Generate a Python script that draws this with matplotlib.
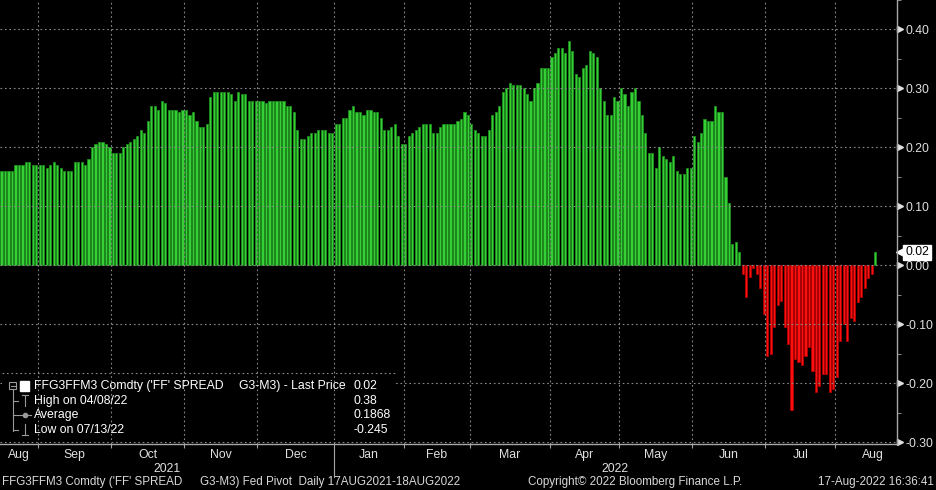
import matplotlib.pyplot as plt
import matplotlib.patches as mpatches
import matplotlib.transforms as mtrans
import numpy as np

W, H = 936, 490
plt.rcParams['font.family'] = ['Liberation Sans Narrow', 'Liberation Sans', 'DejaVu Sans']

# daily spread values, one list per month (trading days)
months = ['Aug', 'Sep', 'Oct', 'Nov', 'Dec', 'Jan', 'Feb', 'Mar', 'Apr', 'May', 'Jun', 'Jul', 'Aug']
years = ['2021', '2022']
aug21 = [0.16, 0.16, 0.16, 0.16, 0.17, 0.17, 0.17, 0.175, 0.175, 0.17, 0.17]
sep21 = [0.17, 0.17, 0.165, 0.17, 0.175, 0.17, 0.165, 0.16, 0.16, 0.16, 0.175, 0.175, 0.175, 0.17,
         0.18, 0.20, 0.205, 0.21, 0.21, 0.205, 0.20]
oct21 = [0.19, 0.19, 0.19, 0.20, 0.205, 0.21, 0.215, 0.22, 0.23, 0.225, 0.245, 0.27, 0.27, 0.264,
         0.279, 0.275, 0.264, 0.264, 0.264, 0.26, 0.264]
nov21 = [0.264, 0.255, 0.26, 0.245, 0.234, 0.234, 0.24, 0.285, 0.294, 0.294, 0.294, 0.294, 0.294,
         0.29, 0.279, 0.294, 0.29, 0.29, 0.279, 0.279, 0.279]
dec21 = [0.279, 0.279, 0.275, 0.279, 0.279, 0.279, 0.279, 0.279, 0.27, 0.27, 0.26, 0.23, 0.215,
         0.215, 0.22, 0.225, 0.225, 0.23, 0.23, 0.23, 0.225, 0.225]
jan22 = [0.24, 0.24, 0.25, 0.25, 0.264, 0.27, 0.26, 0.26, 0.255, 0.264, 0.264, 0.26, 0.26, 0.25,
         0.23, 0.23, 0.235, 0.24, 0.22, 0.205]
feb22 = [0.205, 0.22, 0.225, 0.23, 0.235, 0.24, 0.24, 0.24, 0.225, 0.225, 0.235, 0.24, 0.24, 0.24,
         0.24, 0.245, 0.249, 0.26, 0.255]
mar22 = [0.24, 0.23, 0.225, 0.22, 0.22, 0.23, 0.255, 0.26, 0.27, 0.294, 0.30, 0.309, 0.305, 0.305,
         0.305, 0.30, 0.29, 0.279, 0.30, 0.309, 0.334, 0.334, 0.334]
apr22 = [0.354, 0.36, 0.369, 0.369, 0.36, 0.38, 0.364, 0.324, 0.319, 0.334, 0.339, 0.364, 0.36,
         0.354, 0.30, 0.279, 0.255, 0.255, 0.285, 0.279]
may22 = [0.30, 0.29, 0.27, 0.294, 0.30, 0.279, 0.255, 0.225, 0.19, 0.19, 0.165, 0.20, 0.185, 0.18,
         0.175, 0.185, 0.16, 0.155, 0.155, 0.165, 0.165]
jun22 = [0.22, 0.21, 0.225, 0.249, 0.245, 0.245, 0.27, 0.26, 0.26, 0.15, 0.106, 0.037, 0.04, 0.022,
         -0.014, -0.053, -0.019, -0.004, -0.014, -0.038, -0.083]
jul22 = [-0.154, -0.15, -0.104, -0.068, -0.06, -0.104, -0.134, -0.245, -0.159, -0.164, -0.169,
         -0.154, -0.139, -0.179, -0.214, -0.204, -0.184, -0.184, -0.214, -0.209]
aug22 = [-0.189, -0.128, -0.099, -0.128, -0.09, -0.094, -0.063, -0.053, -0.038, -0.022, -0.014, 0.022]

legend_names = ["High on 04/08/22", "Average", "Low on 07/13/22"]
legend_values = ["0.38", "0.1868", "-0.245"]
last_price = "0.02"

monthly = [aug21, sep21, oct21, nov21, dec21, jan22, feb22, mar22, apr22, may22, jun22, jul22, aug22]
spread = np.concatenate(monthly)
n = len(spread)
x = np.arange(n)
lengths = np.array([len(m) for m in monthly])
starts = np.concatenate([[0], np.cumsum(lengths)[:-1]]) - 0.5
ends = starts + lengths

fig = plt.figure(figsize=(W / 100, H / 100), dpi=100, facecolor='black')
ax = fig.add_axes([0, 1 - 444 / H, 897 / W, 444 / H])
ax.set_facecolor('black')

pos = spread >= 0
ax.bar(x[pos], spread[pos], width=0.62, color='#35d035', edgecolor='#1e8c1e', linewidth=0.6, zorder=1)
ax.bar(x[~pos], spread[~pos], width=0.62, color='#ff1010', edgecolor='#b00000', linewidth=0.6, zorder=1)

ax.set_xlim(-0.45, 257.3)
ax.set_ylim(-0.303, 0.442)

yt = np.round(np.arange(-0.3, 0.41, 0.1), 2)
grid_kw = dict(color='#8a8a8a', lw=0.8, ls=(0, (1.5, 2.5)))
for v in yt:
    ax.axhline(v, zorder=1.5, **grid_kw)
for b in starts[1:]:
    ax.axvline(b, zorder=3, **grid_kw)

ax.yaxis.tick_right()
ax.set_yticks(yt)
ax.set_yticklabels(['%.2f' % v for v in yt])
ax.set_yticks(yt + 0.05, minor=True)
ax.tick_params(axis='y', which='major', length=0, pad=6, labelsize=8.8, labelcolor='#e0e0e0')
ax.tick_params(axis='y', which='minor', length=3, color='#a0a0a0', direction='out')
ax.plot(np.ones(len(yt)) * 1.003, yt, ls='none', marker='>', ms=4.5, color='#e0e0e0',
        transform=ax.get_yaxis_transform(), clip_on=False)

ax.set_xticks(starts[1:])
ax.set_xticklabels([])
ax.tick_params(axis='x', length=3, color='#a0a0a0', direction='out')

for s in ['top', 'left']:
    ax.spines[s].set_visible(False)
for s in ['right', 'bottom']:
    ax.spines[s].set_color('#a8a8a8')
    ax.spines[s].set_linewidth(1)

# last price tag
ytrans = ax.get_yaxis_transform()
ax.plot([1.004], [spread[-1]], marker='<', ms=7, color='white', transform=ytrans, clip_on=False)
ax.text(1.009, spread[-1], last_price, transform=ytrans, ha='left', va='center', fontsize=8.8,
        color='black', bbox=dict(boxstyle='square,pad=0.15', fc='white', ec='white'), clip_on=False)

# month and year labels
bt = mtrans.blended_transform_factory(ax.transData, fig.transFigure)
lab_kw = dict(transform=bt, ha='center', va='center', fontsize=8.8, color='#e0e0e0', clip_on=False)
for i, m in enumerate(months):
    c = (starts[i] + ends[i]) / 2 if i < len(months) - 1 else starts[i] + 11
    ax.text(c, 1 - 455 / H, m, **lab_kw)
split = starts[5]
ax.text((starts[0] + split) / 2, 1 - 469 / H, years[0], **lab_kw)
ax.text((split + ax.get_xlim()[1]) / 2, 1 - 469 / H, years[1], **lab_kw)
ax.plot([split, split], [1 - 447 / H, 1 - 477 / H], transform=bt, color='#a8a8a8', lw=0.8,
        clip_on=False)


def fx(px):
    return px / W


def fy(py):
    return 1 - py / H


# legend box
ft = fig.transFigure
ax.add_patch(mpatches.Rectangle((fx(2), fy(441)), fx(394), 67 / H, transform=ft, fc='black',
                                ec='none', zorder=2.5))
ax.plot([fx(2), fx(396)], [fy(373), fy(373)], transform=ft, zorder=2.6, clip_on=False, **grid_kw)
rows = [386, 401, 415, 430]
lc = '#9a9a9a'
ax.add_patch(mpatches.Rectangle((fx(9), fy(389)), 7 / W, 7 / H, transform=ft, fc='none', ec=lc,
                                lw=0.8, zorder=4))
ax.plot([fx(10.5), fx(14.5)], [fy(385.5), fy(385.5)], transform=ft, color=lc, lw=0.8, zorder=4)
ax.add_patch(mpatches.Rectangle((fx(20), fy(391)), 9 / W, 10 / H, transform=ft, fc='white',
                                ec='white', zorder=4))
ax.plot([fx(12.5), fx(12.5)], [fy(390), fy(431)], transform=ft, color=lc, lw=0.8, zorder=4)
for r in rows[1:]:
    ax.plot([fx(12.5), fx(18)], [fy(r), fy(r)], transform=ft, color=lc, lw=0.8, zorder=4)
ax.plot([fx(22), fx(28)], [fy(395), fy(395)], transform=ft, color=lc, lw=0.8, zorder=4)
ax.plot([fx(25), fx(25)], [fy(395), fy(406)], transform=ft, color=lc, lw=0.8, zorder=4)
ax.plot([fx(19), fx(31)], [fy(415), fy(415)], transform=ft, color=lc, lw=0.8, zorder=4)
ax.plot([fx(25)], [fy(415)], transform=ft, marker='o', ms=3, color=lc, zorder=4)
ax.plot([fx(25), fx(25)], [fy(424), fy(435)], transform=ft, color=lc, lw=0.8, zorder=4)
ax.plot([fx(22), fx(28)], [fy(435), fy(435)], transform=ft, color=lc, lw=0.8, zorder=4)

txt_kw = dict(transform=ft, va='center', ha='left', fontsize=8.8, color='white', zorder=5)
ax.text(fx(34), fy(rows[0]), "FFG3FFM3 Comdty ('FF' SPREAD", **txt_kw)
ax.text(fx(239), fy(rows[0]), "G3-M3) - Last Price", **txt_kw)
ax.text(fx(354), fy(rows[0]), last_price, **txt_kw)
for r, name, val in zip(rows[1:], legend_names, legend_values):
    ax.text(fx(34), fy(r), name, **txt_kw)
    ax.text(fx(354), fy(r), val, **txt_kw)

# footer
foot_kw = dict(va='center', fontsize=8.4, color='#d8d8d8')
fig.text(fx(2), fy(482), "FFG3FFM3 Comdty ('FF' SPREAD", ha='left', **foot_kw)
fig.text(fx(200), fy(482), "G3-M3) Fed Pivot  Daily 17AUG2021-18AUG2022", ha='left', **foot_kw)
fig.text(fx(528), fy(482), "Copyright\u00a9 2022 Bloomberg Finance L.P.", ha='left', **foot_kw)
fig.text(fx(934), fy(482), "17-Aug-2022 16:36:41", ha='right', **foot_kw)

fig.savefig('out.png', dpi=100, facecolor='black')
